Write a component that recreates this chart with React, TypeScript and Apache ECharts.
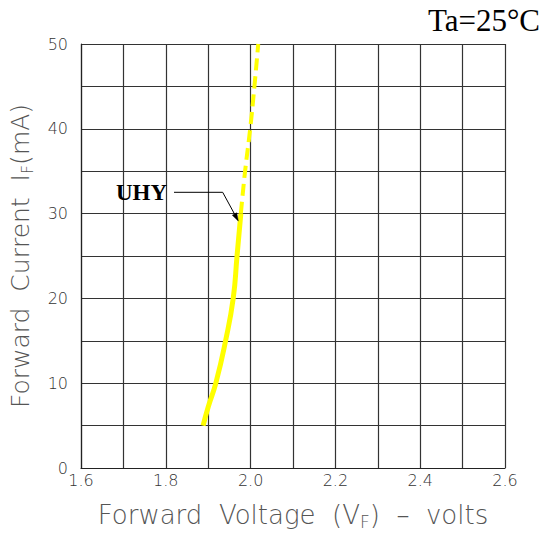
import React, { useEffect, useRef } from "react";
import * as echarts from "echarts";

const xTicks = [1.6, 1.8, 2.0, 2.2, 2.4, 2.6];
const yTicks = [0, 10, 20, 30, 40, 50];
const solidCurve: [number, number][] = [
  [1.888, 5],
  [1.9, 7.2],
  [1.918, 10],
  [1.941, 15],
  [1.959, 20],
  [1.968, 25],
  [1.977, 30],
];
const dashedCurve: [number, number][] = [
  [1.977, 30],
  [1.987, 35],
  [1.999, 40],
  [2.009, 45],
  [2.018, 50],
];
const seriesName = "UHY";
const titleText = "Ta=25°C";

export default function App() {
  const ref = useRef<HTMLDivElement>(null);
  useEffect(() => {
    if (!ref.current) return;
    const chart = echarts.init(ref.current, null, { renderer: "svg" });
    const axisFont = '"DejaVu Sans", sans-serif';
    const near = (v: number, arr: number[]) => arr.some((t) => Math.abs(t - v) < 1e-6);
    const richX = {
      a: { fontFamily: axisFont, fontWeight: 200, fontSize: 26, color: "#555" },
      s: { fontFamily: axisFont, fontWeight: 200, fontSize: 17, color: "#555", padding: [13, 0, 0, 0] },
    };
    const richY = {
      a: { fontFamily: axisFont, fontWeight: 200, fontSize: 25, color: "#555" },
      s: { fontFamily: axisFont, fontWeight: 200, fontSize: 16, color: "#555", padding: [13, 0, 0, 0] },
    };
    chart.setOption({
      animation: false,
      backgroundColor: "#ffffff",
      grid: {
        left: 81,
        top: 44,
        width: 424,
        height: 424,
        containLabel: false,
        outerBoundsMode: "none",
      },
      xAxis: {
        type: "value",
        min: 1.6,
        max: 2.6,
        interval: 0.1,
        name: "{a|Forward  Voltage  (V}{s|F}{a|)  –  volts}",
        nameLocation: "middle",
        nameGap: 32,
        nameTextStyle: { rich: richX },
        axisLine: { show: true, lineStyle: { color: "#222", width: 1.2 } },
        axisTick: { show: false },
        axisLabel: {
          margin: 4,
          fontFamily: axisFont,
          fontWeight: 200,
          fontSize: 16,
          color: "#333",
          formatter: (v: number) => (near(v, xTicks) ? v.toFixed(1) : ""),
        },
        splitLine: { show: true, lineStyle: { color: "#333", width: 1.2 } },
      },
      yAxis: {
        type: "value",
        min: 0,
        max: 50,
        interval: 5,
        name: "{a|Forward  Current  I}{s|F}{a|(mA)}",
        nameLocation: "middle",
        nameGap: 46,
        nameRotate: 90,
        nameTextStyle: { rich: richY },
        axisLine: { show: true, lineStyle: { color: "#222", width: 1.2 } },
        axisTick: { show: false },
        axisLabel: {
          margin: 13,
          fontFamily: axisFont,
          fontWeight: 200,
          fontSize: 16,
          color: "#333",
          formatter: (v: number) => (near(v, yTicks) ? String(v) : ""),
        },
        splitLine: { show: true, lineStyle: { color: "#333", width: 1.2 } },
      },
      series: [
        {
          name: seriesName,
          type: "line",
          data: solidCurve,
          smooth: true,
          symbol: "none",
          lineStyle: { color: "#ffff00", width: 5 },
          z: 5,
        },
        {
          name: seriesName + " (dashed)",
          type: "line",
          data: dashedCurve,
          smooth: true,
          symbol: "none",
          lineStyle: { color: "#ffff00", width: 4, type: [12, 6] },
          z: 5,
        },
      ],
      graphic: [
        {
          type: "text",
          right: 7,
          top: 5,
          style: {
            text: titleText,
            font: '31px "Liberation Serif", serif',
            fill: "#000",
          },
        },
        {
          type: "text",
          x: 116,
          y: 192,
          style: {
            text: seriesName,
            font: 'bold 23px "Liberation Serif", serif',
            fill: "#000",
            textAlign: "left",
            textVerticalAlign: "middle",
          },
          z: 10,
        },
        {
          type: "polyline",
          shape: { points: [[174, 192.3], [222.7, 192.3], [234.5, 214]] },
          style: { stroke: "#000", lineWidth: 1, fill: "none" },
          z: 10,
        },
        {
          type: "polygon",
          shape: { points: [[238.3, 221], [232.3, 215.2], [236.7, 212.8]] },
          style: { fill: "#000", stroke: "#000", lineWidth: 0.5 },
          z: 10,
        },
      ],
    });
    return () => chart.dispose();
  }, []);
  return (
    <div
      ref={ref}
      style={{ position: "absolute", left: 0, top: 0, width: 547, height: 534 }}
    />
  );
}
